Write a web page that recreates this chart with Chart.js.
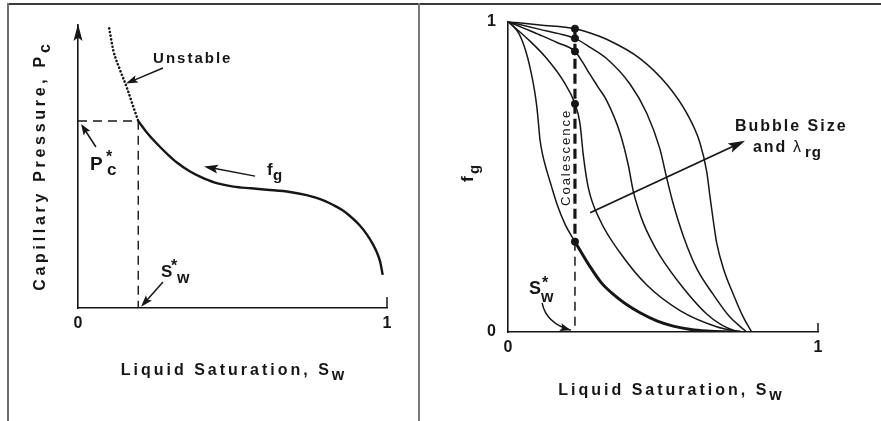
<!DOCTYPE html>
<html lang="en">
<head>
<meta charset="UTF-8">
<title>Capillary Pressure and Foam Fractional Flow</title>
<script src="https://cdn.jsdelivr.net/npm/chart.js"></script>
<style>
  body { margin: 0; background: #fff; }
  .sheet { position: relative; width: 881px; height: 421px; overflow: hidden; background: #fff; }
  .sheet canvas { position: absolute; top: 0; }
  #pcChart { left: 0; }
  #fgChart { left: 420px; }
  .rule { position: absolute; }
  .rule.top { left: 7px; top: 3px; width: 874px; height: 2px; background: #3c3c3c; }
  .rule.left { left: 7px; top: 3px; width: 2px; height: 418px; background: #6e6e6e; }
  .rule.mid { left: 418px; top: 3px; width: 2px; height: 418px; background: #7a7a7a; }
</style>
</head>
<body>
<div class="sheet">
  <canvas id="pcChart" width="418" height="421"></canvas>
  <canvas id="fgChart" width="461" height="421"></canvas>
  <div class="rule top"></div>
  <div class="rule left"></div>
  <div class="rule mid"></div>
</div>
<script>
const satTicks = [0, 1];
const fgTicks = [0, 1];

// capillary pressure vs liquid saturation (relative units)
const pcSw = [0.195, 0.22, 0.254, 0.29, 0.319, 0.36, 0.395, 0.443, 0.503, 0.56, 0.611, 0.686, 0.74, 0.772, 0.80, 0.826, 0.855, 0.88, 0.91, 0.934, 0.955, 0.967, 0.978, 0.986];
const pcVal = [0.661, 0.624, 0.582, 0.543, 0.515, 0.484, 0.464, 0.443, 0.429, 0.423, 0.418, 0.410, 0.399, 0.389, 0.378, 0.364, 0.346, 0.325, 0.294, 0.261, 0.224, 0.197, 0.163, 0.117];
const unstableSw = [0.101, 0.114, 0.136, 0.157, 0.179, 0.195];
const unstableVal = [0.988, 0.912, 0.841, 0.782, 0.711, 0.661];
const pcSwStar = 0.195;
const pcStar = 0.661;

// gas fractional flow, one curve per bubble size (finest first)
const fgSw1 = [0, 0.02, 0.035, 0.049, 0.063, 0.076, 0.086, 0.093, 0.098, 0.103, 0.112, 0.125, 0.14, 0.157, 0.185, 0.216,
               0.265, 0.30, 0.34, 0.38, 0.426, 0.48, 0.533, 0.59, 0.641, 0.70, 0.748];
const fg1 = [1, 0.982, 0.962, 0.93, 0.885, 0.829, 0.775, 0.725, 0.675, 0.621, 0.57, 0.52, 0.47, 0.415, 0.345, 0.291,
             0.21, 0.16, 0.121, 0.09, 0.062, 0.036, 0.019, 0.008, 0.003, 0.0005, 0];
const fgSw2 = [0, 0.071, 0.125, 0.179, 0.216, 0.232, 0.243, 0.259, 0.297, 0.361, 0.447, 0.555, 0.673, 0.748];
const fg2 = [1, 0.937, 0.881, 0.808, 0.735, 0.673, 0.569, 0.465, 0.360, 0.256, 0.152, 0.069, 0.017, 0];
const fgSw3 = [0, 0.05, 0.103, 0.16, 0.216, 0.24, 0.265, 0.29, 0.318, 0.361, 0.388, 0.404, 0.42, 0.437, 0.46, 0.490, 0.566, 0.641, 0.69, 0.727, 0.759];
const fg3 = [1, 0.979, 0.957, 0.932, 0.904, 0.87, 0.829, 0.79, 0.746, 0.642, 0.538, 0.454, 0.398, 0.350, 0.30, 0.246, 0.141, 0.058, 0.022, 0.006, 0];
const fgSw4 = [0, 0.103, 0.16, 0.216, 0.265, 0.318, 0.394, 0.448, 0.490, 0.512, 0.533, 0.566, 0.609, 0.662, 0.716, 0.770];
const fg4 = [1, 0.975, 0.962, 0.946, 0.917, 0.881, 0.798, 0.704, 0.590, 0.496, 0.413, 0.308, 0.204, 0.121, 0.048, 0];
const fgSw5 = [0, 0.103, 0.216, 0.265, 0.318, 0.426, 0.512, 0.577, 0.619, 0.641, 0.652, 0.662, 0.673, 0.695, 0.727, 0.759, 0.786];
const fg5 = [1, 0.989, 0.977, 0.963, 0.943, 0.881, 0.798, 0.704, 0.610, 0.517, 0.433, 0.360, 0.288, 0.204, 0.121, 0.048, 0];
const fgSwStar = 0.216;
const coalescenceFg = [0.977, 0.946, 0.904, 0.735, 0.291];

const INK = '#161616';
const FONT = '"Liberation Sans", Arial, sans-serif';
const B16 = 'bold 16px ' + FONT;

const pts = (xs, ys) => xs.map((x, i) => ({ x, y: ys[i] }));

function curve(data, width, extra) {
    return Object.assign({
        data,
        showLine: true,
        borderColor: INK,
        backgroundColor: INK,
        borderWidth: width,
        pointRadius: 0,
        fill: false,
        cubicInterpolationMode: 'monotone'
    }, extra || {});
}

function dashed(data, width, dash) {
    return curve(data, width, { borderDash: dash, cubicInterpolationMode: 'default', tension: 0 });
}

function head(ctx, x, y, a, len, half) {
    const c = Math.cos(a), s = Math.sin(a);
    ctx.beginPath();
    ctx.moveTo(x, y);
    ctx.lineTo(x - c * len - s * half, y - s * len + c * half);
    ctx.lineTo(x - c * len * 0.8, y - s * len * 0.8);
    ctx.lineTo(x - c * len + s * half, y - s * len - c * half);
    ctx.closePath();
    ctx.fill();
}

function arrow(ctx, x1, y1, x2, y2, len, half) {
    const a = Math.atan2(y2 - y1, x2 - x1);
    ctx.beginPath();
    ctx.moveTo(x1, y1);
    ctx.lineTo(x2 - Math.cos(a) * len * 0.7, y2 - Math.sin(a) * len * 0.7);
    ctx.stroke();
    head(ctx, x2, y2, a, len, half);
}

// glyph runs at fixed offsets from an anchor: [text, font, dx, dy, spacing]
function glyphs(ctx, x, y, runs) {
    ctx.textAlign = 'left';
    ctx.textBaseline = 'alphabetic';
    runs.forEach(([t, f, dx, dy, ls]) => {
        ctx.font = f;
        ctx.letterSpacing = (ls || 0) + 'px';
        ctx.fillText(t, x + dx, y + dy);
    });
    ctx.letterSpacing = '0px';
}

// runs laid end to end and centred on x: [text, font, spacing, dy]
function title(ctx, x, y, runs) {
    ctx.textAlign = 'left';
    ctx.textBaseline = 'alphabetic';
    let w = 0;
    const widths = runs.map(([t, f, ls]) => {
        ctx.font = f;
        ctx.letterSpacing = ls + 'px';
        const m = ctx.measureText(t).width;
        w += m;
        return m;
    });
    let cx = x - w / 2;
    runs.forEach(([t, f, ls, dy], i) => {
        ctx.font = f;
        ctx.letterSpacing = ls + 'px';
        ctx.fillText(t, cx, y + (dy || 0));
        cx += widths[i];
    });
    ctx.letterSpacing = '0px';
}

function satAxis(pad, ticksList) {
    return {
        type: 'linear',
        min: 0,
        max: 1,
        afterBuildTicks: s => { s.ticks = ticksList.map(v => ({ value: v })); },
        afterFit: s => { s.height = 30; },
        grid: { display: false, drawTicks: false },
        border: { display: true, color: INK, width: 1.6 },
        ticks: {
            color: INK,
            padding: pad,
            maxRotation: 0,
            font: { family: FONT, size: 16, weight: 'bold' },
            callback: v => String(v)
        }
    };
}

const pcNotes = {
    id: 'pcNotes',
    afterDraw(chart) {
        const { ctx, chartArea: a, scales: { x, y } } = chart;
        const X = v => x.getPixelForValue(v), Y = v => y.getPixelForValue(v);
        ctx.save();
        ctx.fillStyle = INK;
        ctx.strokeStyle = INK;
        ctx.lineWidth = 1.5;

        // arrow tip on the pressure axis and end tick at Sw = 1
        head(ctx, a.left, a.top - 1, -Math.PI / 2, 17, 4.5);
        ctx.beginPath();
        ctx.moveTo(X(1), a.bottom);
        ctx.lineTo(X(1), a.bottom - 11);
        ctx.stroke();

        glyphs(ctx, X(0.243), Y(0.866), [['Unstable', 'bold 15px ' + FONT, 0, 0, 2]]);
        arrow(ctx, X(0.275), Y(0.848), X(0.155), Y(0.793), 12, 4);

        glyphs(ctx, X(0.039), Y(0.488), [
            ['P', 'bold 19px ' + FONT, 0, 0],
            ['*', 'bold 16px ' + FONT, 16, -8],
            ['c', 'bold 17px ' + FONT, 17, 5]
        ]);
        arrow(ctx, X(0.058), Y(0.569), X(0.010), Y(0.650), 11, 4);

        glyphs(ctx, X(0.612), Y(0.470), [
            ['f', 'bold 17px ' + FONT, 0, 0],
            ['g', 'bold 15px ' + FONT, 6, 5]
        ]);
        arrow(ctx, X(0.573), Y(0.466), X(0.408), Y(0.500), 14, 4.5);

        glyphs(ctx, X(0.269), Y(0.110), [
            ['S', 'bold 17px ' + FONT, 0, 0],
            ['*', 'bold 16px ' + FONT, 10, -6],
            ['w', 'bold 16px ' + FONT, 16, 6]
        ]);
        arrow(ctx, X(0.275), Y(0.092), X(0.204), Y(0.004), 12, 4);

        // axis titles
        ctx.save();
        ctx.translate(a.left - 33, (a.top + a.bottom) / 2 + 1);
        ctx.rotate(-Math.PI / 2);
        title(ctx, 0, 0, [['Capillary Pressure, P', B16, 3.7], ['c', B16, 0, 5]]);
        ctx.restore();
        title(ctx, (a.left + a.right) / 2, a.bottom + 67, [['Liquid Saturation, S', B16, 3], ['w', B16, 0, 5]]);
        ctx.restore();
    }
};

const fgNotes = {
    id: 'fgNotes',
    afterDraw(chart) {
        const { ctx, chartArea: a, scales: { x, y } } = chart;
        const X = v => x.getPixelForValue(v), Y = v => y.getPixelForValue(v);
        ctx.save();
        ctx.fillStyle = INK;
        ctx.strokeStyle = INK;
        ctx.lineWidth = 1.5;

        ctx.beginPath();
        ctx.moveTo(X(1), a.bottom);
        ctx.lineTo(X(1), a.bottom - 9);
        ctx.stroke();

        // trend of bubble size across the curve family
        ctx.lineWidth = 1.8;
        arrow(ctx, X(0.265), Y(0.384), X(0.765), Y(0.616), 17, 5);
        glyphs(ctx, X(0.732), Y(0.647), [['Bubble Size', B16, 0, 0, 2]]);
        glyphs(ctx, X(0.790), Y(0.581), [
            ['and', B16, 0, 0, 2],
            ['\u03bb', '16px ' + FONT, 40, 0],
            ['rg', 'bold 15px ' + FONT, 52, 5, 1]
        ]);

        // label along the coalescence line
        ctx.save();
        ctx.translate(X(0.190), Y(0.5625));
        ctx.rotate(-Math.PI / 2);
        ctx.font = '13px ' + FONT;
        ctx.letterSpacing = '2px';
        ctx.textAlign = 'center';
        ctx.textBaseline = 'middle';
        ctx.fillText('Coalescence', 0, 0);
        ctx.restore();

        glyphs(ctx, X(0.068), Y(0.122), [
            ['S', 'bold 18px ' + FONT, 0, 0],
            ['*', 'bold 16px ' + FONT, 13, -6],
            ['w', 'bold 16px ' + FONT, 12, 8]
        ]);
        ctx.lineWidth = 1.5;
        const sx = X(0.110), sy = Y(0.094), qx = X(0.123), qy = Y(0.028), ex = X(0.203), ey = Y(0.006);
        ctx.beginPath();
        ctx.moveTo(sx, sy);
        ctx.quadraticCurveTo(qx, qy, ex, ey);
        ctx.stroke();
        head(ctx, ex, ey, Math.atan2(ey - qy, ex - qx), 11, 4);

        // axis titles
        ctx.save();
        ctx.translate(a.left - 35, a.bottom - 150);
        ctx.rotate(-Math.PI / 2);
        glyphs(ctx, 0, 0, [['f', 'bold 17px ' + FONT, 0, 0], ['g', 'bold 15px ' + FONT, 8, 6]]);
        ctx.restore();
        title(ctx, a.left + 162, a.bottom + 63, [['Liquid Saturation, S', B16, 3], ['w', B16, 0, 5]]);
        ctx.restore();
    }
};

// left: capillary pressure
new Chart(document.getElementById('pcChart'), {
    type: 'scatter',
    data: {
        datasets: [
            curve(pts(pcSw, pcVal), 2.4),
            curve(pts(unstableSw, unstableVal), 2.6, { borderDash: [0.1, 3.6], borderCapStyle: 'round' }),
            dashed([{ x: 0, y: pcStar }, { x: pcSwStar, y: pcStar }, { x: pcSwStar, y: 0 }], 1.4, [9, 6])
        ]
    },
    options: {
        responsive: false,
        animation: false,
        layout: { padding: { left: 68, right: 31, top: 25, bottom: 83 } },
        plugins: { legend: { display: false }, tooltip: { enabled: false } },
        scales: {
            x: satAxis(6, satTicks),
            y: {
                type: 'linear',
                min: 0,
                max: 1,
                afterFit: s => { s.width = 10; },
                grid: { display: false, drawTicks: false },
                border: { display: true, color: INK, width: 1.6 },
                ticks: { display: false }
            }
        }
    },
    plugins: [pcNotes]
});

// right: fractional flow curves
const fgData1 = pts(fgSw1, fg1);
new Chart(document.getElementById('fgChart'), {
    type: 'scatter',
    data: {
        datasets: [
            curve(fgData1.filter(p => p.x <= fgSwStar), 1.5),
            curve(fgData1.filter(p => p.x >= fgSwStar), 3),
            curve(pts(fgSw2, fg2), 1.5),
            curve(pts(fgSw3, fg3), 1.5),
            curve(pts(fgSw4, fg4), 1.5),
            curve(pts(fgSw5, fg5), 1.5),
            dashed([{ x: fgSwStar, y: Math.max(...coalescenceFg) }, { x: fgSwStar, y: Math.min(...coalescenceFg) }], 3.2, [10, 5]),
            dashed([{ x: fgSwStar, y: Math.min(...coalescenceFg) }, { x: fgSwStar, y: 0 }], 1.5, [9, 6]),
            {
                data: coalescenceFg.map(v => ({ x: fgSwStar, y: v })),
                showLine: false,
                pointRadius: 3.6,
                pointBackgroundColor: INK,
                pointBorderColor: INK
            }
        ]
    },
    options: {
        responsive: false,
        animation: false,
        layout: { padding: { left: 58, right: 63, top: 12, bottom: 59 } },
        plugins: { legend: { display: false }, tooltip: { enabled: false } },
        scales: {
            x: satAxis(6, satTicks),
            y: Object.assign(satAxis(12, fgTicks), {
                afterFit: s => { s.width = 30; }
            })
        }
    },
    plugins: [fgNotes]
});
</script>
</body>
</html>
